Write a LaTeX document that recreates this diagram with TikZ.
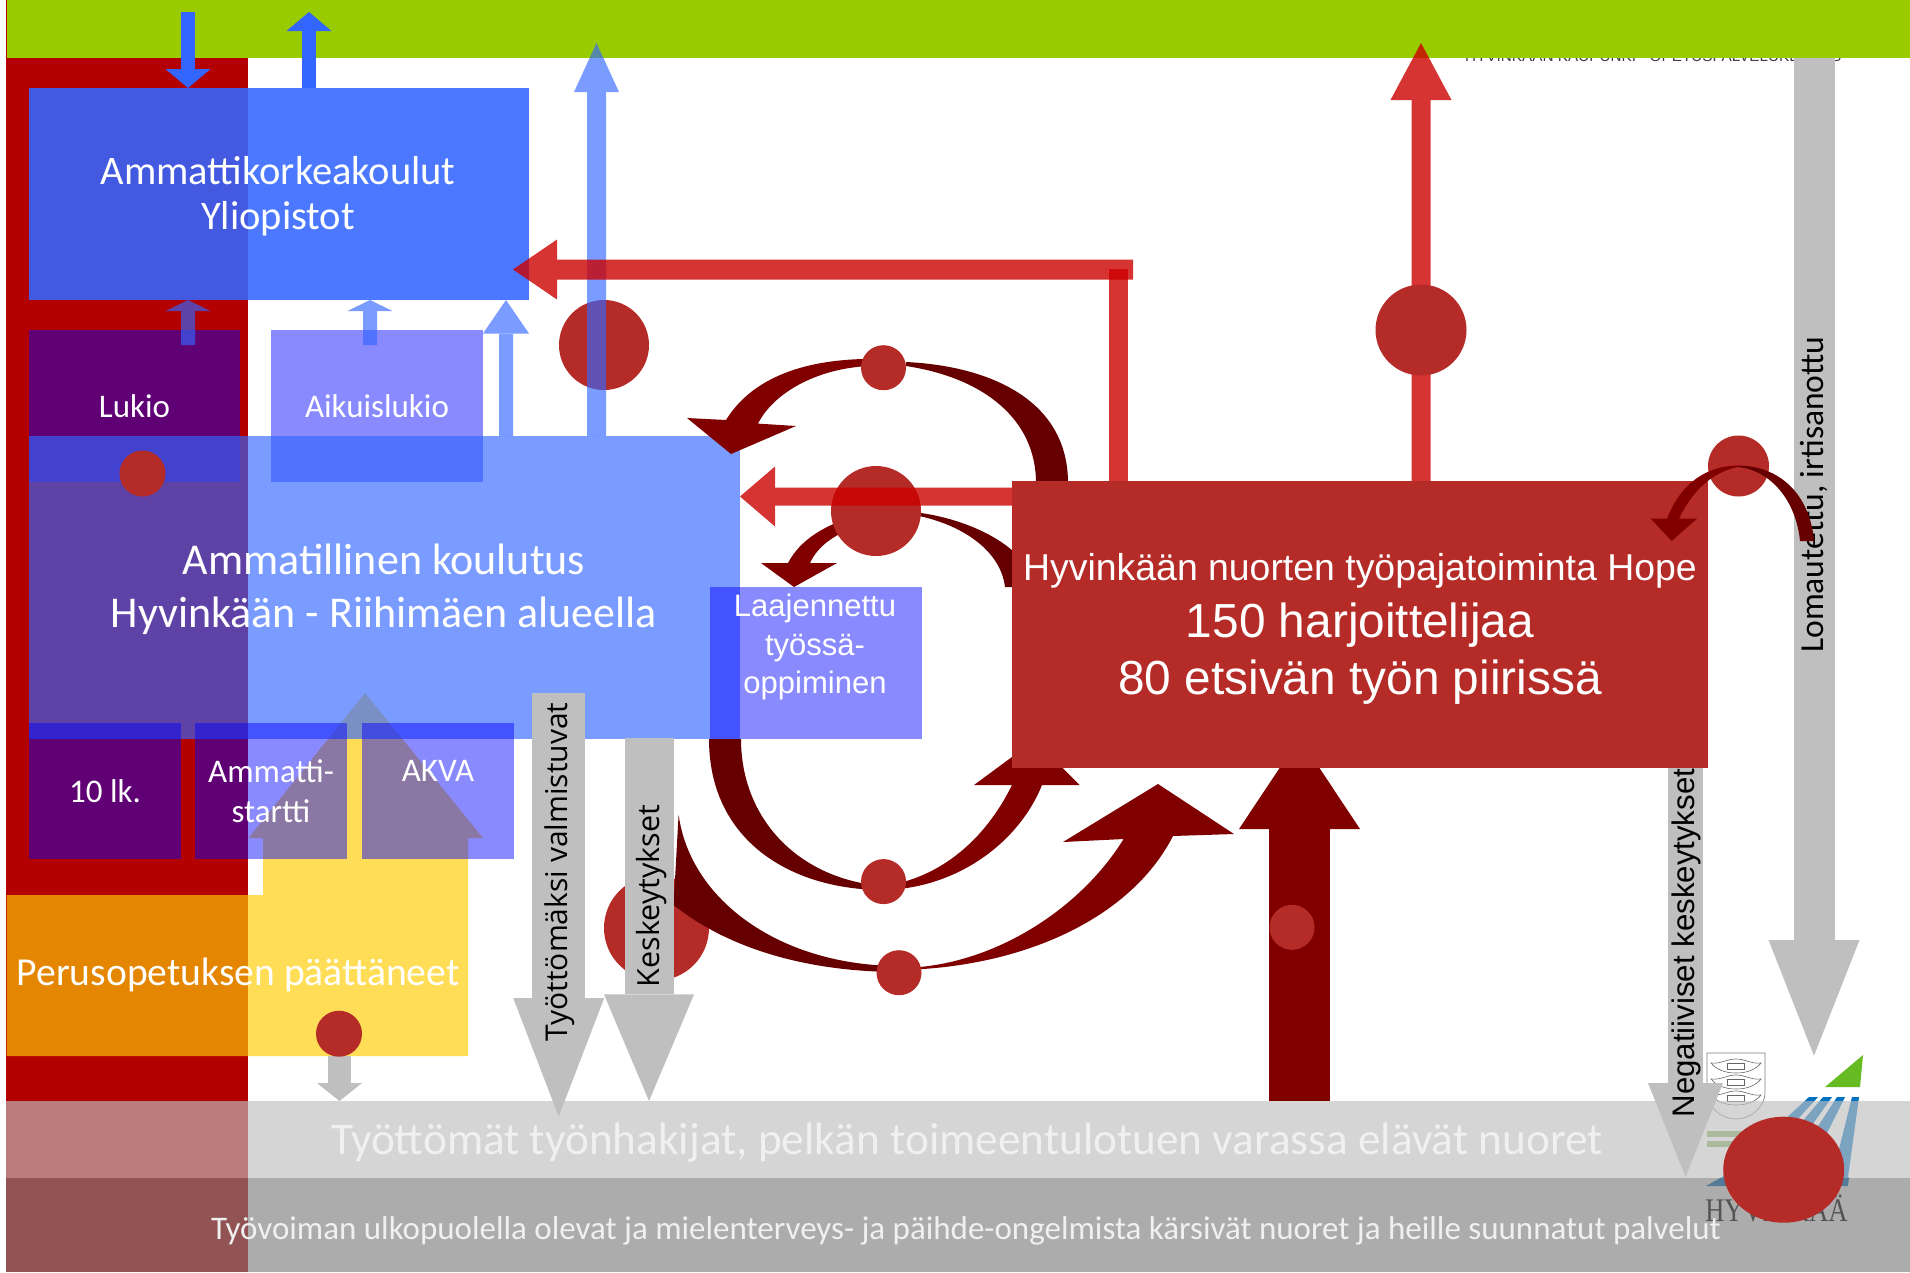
\documentclass[tikz,border=0pt]{standalone}
\usepackage{fontspec}
\setmainfont{Carlito}
\newfontfamily\arialfont{Liberation Sans}
\newfontfamily\sidefont{Open Sans}
\newfontfamily\logofont[FakeStretch=.8]{Liberation Serif}
\newcommand{\fsize}[1]{\fontsize{#1}{1.2\dimexpr#1pt\relax}\selectfont}
\usetikzlibrary{arrows.meta,shapes.geometric}
\definecolor{leaf}{HTML}{99CC00}
\definecolor{stripred}{HTML}{B30000}
\definecolor{hopered}{HTML}{B52B27}
\definecolor{skyblue}{HTML}{3366FF}
\definecolor{arcdark}{HTML}{660000}
\definecolor{arcred}{HTML}{800000}
\definecolor{greyarrow}{HTML}{BFBFBF}
\definecolor{gold}{HTML}{FFCC00}
\definecolor{logoblue}{HTML}{0070C0}
\definecolor{logogreen}{HTML}{66BB22}
\definecolor{logobar}{HTML}{88B060}
\tikzset{
  box/.style={rectangle,inner sep=0pt,outer sep=0pt,text=white,align=center,fill opacity=#1,text opacity=1},
  txt/.style={inner sep=0pt,outer sep=0pt,text=white,align=center},
  sidetxt/.style={inner sep=0pt,outer sep=0pt,rotate=90,text=black},
  dot/.style={circle,fill=hopered,inner sep=0pt,outer sep=0pt,minimum size=#1pt},
  blockarrow/.style n args={3}{line width=#1pt,-{Triangle[width=#2pt,length=#3pt,line width=0pt]}}
}
\begin{document}
\begin{tikzpicture}[x=1pt,y=-1pt]
\useasboundingbox (0,0) rectangle (1910,1272);
\fill[white] (0,0) rectangle (1910,1272);

\fill[stripred] (5.5,0) rectangle (247.5,1272);
\node[inner sep=0pt,anchor=base west,text=black!75,font=\arialfont\fsize{15.3}] (citytext) at (1465,61) {HYVINKÄÄN KAUPUNKI - OPETUSPALVELUKESKUS};
\fill[leaf] (6.5,0) rectangle (1910,58);

\draw[gray,fill=white,line width=.7pt] (1707,1053) -- (1765,1053) -- (1765,1092) .. controls (1765,1108) and (1750,1119) .. (1736,1119) .. controls (1722,1119) and (1707,1108) .. (1707,1092) -- cycle;
\foreach \y in {1066,1082,1098} {
  \draw[black!60,fill=white,line width=.6pt] (1711,\y-3) .. controls (1722,\y-2) and (1726,\y-7) .. (1736,\y-7) .. controls (1746,\y-7) and (1750,\y-2) .. (1761,\y-3) .. controls (1756,\y+3) and (1748,\y+7) .. (1736,\y+7) .. controls (1724,\y+7) and (1716,\y+3) .. (1711,\y-3) -- cycle;
  \draw[black!60,line width=.5pt] (1727,\y-3) rectangle (1744,\y+3);
}
\fill[logobar] (1707,1131) rectangle (1752,1137);
\fill[logobar] (1707,1141) rectangle (1752,1147);
\fill[logogreen] (1863,1055) -- (1860,1087) -- (1825,1087) -- cycle;
\fill[logoblue] (1809,1097) -- (1818,1097) -- (1745,1177) -- (1722,1177) -- cycle;
\fill[logoblue] (1823,1097) -- (1832,1097) -- (1775,1177) -- (1755,1177) -- cycle;
\fill[logoblue] (1837,1097) -- (1845,1097) -- (1805,1177) -- (1785,1177) -- cycle;
\fill[logoblue] (1852,1097) -- (1859,1097) -- (1848,1177) -- (1832,1177) -- cycle;
\fill[logoblue] (1722,1177) -- (1849,1177) -- (1848,1186) -- (1706,1186) -- cycle;
\node[inner sep=0pt,text=black,font=\logofont\fsize{33}] (townname) at (1776.5,1208) {HYVINKÄÄ};

\fill[greyarrow,fill opacity=.65] (5.5,1101) rectangle (1910,1177.5);
\fill[black!50,fill opacity=.65] (5.5,1177.5) rectangle (1910,1272);
\node[txt,text=white!94!black,font=\fsize{45.3}] (jobseekers) at (967,1143) {Työttömät työnhakijat, pelkän toimeentulotuen varassa elävät nuoret};
\node[txt,text=white!94!black,font=\fsize{33}] (outside) at (966,1231) {Työvoiman ulkopuolella olevat ja mielenterveys- ja päihde-ongelmista kärsivät nuoret ja heille suunnatut palvelut};

\fill[gold,fill opacity=.66] (365,693) -- (483,838) -- (468,838) -- (468,1056) -- (6.5,1056) -- (6.5,895) -- (263,895) -- (263,838) -- (248.5,838) -- cycle;
\node[txt,font=\fsize{39.6}] (peruskoulu) at (238,975) {Perusopetuksen päättäneet};

\node[dot=90] (leftdot) at (604,345) {};
\node[dot=105] (greydot) at (656.5,928) {};

\node[box=.46,fill=blue,minimum width=211pt,minimum height=152pt,font=\fsize{33}] (lukio) at (134.5,406) {Lukio};
\node[box=.46,fill=blue,minimum width=212pt,minimum height=152pt,font=\fsize{33}] (aikuislukio) at (377,406) {Aikuislukio};
\node[box=.65,fill=skyblue,minimum width=711pt,minimum height=303pt] (ammatillinen) at (384.5,587.5) {};
\node[txt,font=\fsize{44}] (ammatext) at (384,589) {Ammatillinen koulutus\\Hyvinkään - Riihimäen alueella};
\node[box=.88,fill=skyblue,minimum width=500pt,minimum height=212pt] (korkeakoulut) at (279,194) {};
\node[txt,font=\fsize{40.5}] (korkeatext) at (278,196) {Ammattikorkeakoulut\\[-4pt]Yliopistot};
\node[box=.46,fill=blue,minimum width=152pt,minimum height=136pt,font=\fsize{33}] (kymppi) at (105,791) {10 lk.};
\node[box=.46,fill=blue,minimum width=152pt,minimum height=136pt,font=\fsize{33}] (startti) at (271,791) {Ammatti-\\startti};
\node[box=.46,fill=blue,minimum width=152pt,minimum height=136pt,font=\fsize{33}] (akva) at (438,791) {AKVA\\~};
\node[box=.46,fill=blue,minimum width=212pt,minimum height=152pt] (laajennettu) at (816,663) {};
\node[txt,font=\arialfont\fsize{31}] (laajatext) at (815,647) {Laajennettu\\[1.5pt]työssä-\\[1.5pt]oppiminen};

\coordinate (down start) at (188,12);
\coordinate (down tip)   at (188,88);
\coordinate (up start)   at (309,88);
\coordinate (up tip)     at (309,12);
\draw[skyblue,blockarrow={14}{45}{19}] (down start) -- (down tip);
\draw[skyblue,blockarrow={14}{45}{19}] (up start) -- (up tip);

\coordinate (lukio out)  at (188,345);
\coordinate (lukio in)   at (188,300);
\coordinate (aikuis out) at (370,345);
\coordinate (aikuis in)  at (370,300);
\coordinate (amm left)   at (506,436);
\coordinate (amm left2)  at (506,300);
\coordinate (amm right)  at (596.5,436);
\coordinate (amm right2) at (596.5,43);
\begin{scope}[transparency group,opacity=.65]
\draw[skyblue,blockarrow={14}{45}{11}] (lukio out) -- (lukio in);
\draw[skyblue,blockarrow={14}{45}{11}] (aikuis out) -- (aikuis in);
\draw[skyblue,blockarrow={14}{46}{33.5}] (amm left) -- (amm left2);
\draw[skyblue,blockarrow={19}{45}{49}] (amm right) -- (amm right2);
\end{scope}

\fill[arcdark] (1068,483) .. controls (1068,400) and (990,366) .. (906,362) -- (906,366) .. controls (985,378) and (1036,420) .. (1036,483) -- cycle;
\fill[arcred] (883,359) .. controls (805,357) and (752,378) .. (726,420) -- (687,418) -- (731,454) -- (796,426) -- (758,423.6) .. controls (775,390) and (825,364) .. (883,366) -- cycle;
\fill[arcdark] (900,511) .. controls (945,513) and (990,530) .. (1014,552) -- (1014,587) -- (1005,587) .. controls (1000,545) and (950,518) .. (900,513) -- cycle;
\fill[arcred] (860,515) .. controls (825,524) and (800,540) .. (788,563) -- (761,563) -- (794,587) -- (837,563) -- (810,563) .. controls (818,545) and (838,532) .. (860,526) -- cycle;
\fill[arcdark] (709,739) .. controls (709,840) and (790,890) .. (884,890) -- (884,886) .. controls (800,880) and (741,820) .. (741,739) -- cycle;
\fill[arcred] (884,890) .. controls (960,888) and (1020,840) .. (1042,785) -- (1079.6,785) -- (1035,740) -- (974,785) -- (1012,785) .. controls (985,840) and (940,878) .. (884,886) -- cycle;
\fill[arcdark] (678.6,814.6) .. controls (690,900) and (780,966) .. (900,966) -- (900,972) .. controls (810,972) and (730,950) .. (673.6,905) -- cycle;
\fill[arcred] (899,970) .. controls (1020,968) and (1130,920) .. (1173,836) -- (1234,834) -- (1158,784) -- (1063,842) -- (1123.6,839) .. controls (1080,910) and (990,968) .. (899,968) -- cycle;

\coordinate (jobs top)   at (1299.5,1101);
\coordinate (jobs tip)   at (1299.5,738);
\draw[arcred,blockarrow={61}{121}{91}] (jobs top) -- (jobs tip);

\node[dot=90] (middot) at (876,511) {};
\node[dot=45] (topdot) at (883.5,367.7) {};
\node[dot=45] (bottomdot) at (883.5,881.6) {};
\node[dot=45] (lowdot) at (899,972.7) {};
\node[dot=45] (jobsdot) at (1292,927.3) {};

\coordinate (amk branch) at (1133,269.5);
\coordinate (amk tip)    at (513,269.5);
\coordinate (mid start)  at (1012,496.5);
\coordinate (mid tip)    at (740,496.5);
\coordinate (hope top)   at (1421,481);
\coordinate (hope tip)   at (1421,43);
\begin{scope}[transparency group,opacity=.8]
\draw[red!80!black,blockarrow={20}{60}{44}] (amk branch) -- (amk tip);
\draw[red!80!black,blockarrow={18}{60}{35}] (mid start) -- (mid tip);
\draw[red!80!black,blockarrow={19}{61}{57}] (hope top) -- (hope tip);
\end{scope}
\coordinate (branch foot) at (1118,481);
\coordinate (branch head) at (1118,269.3);
\draw[red!80!black,opacity=.8,line width=19pt] (branch foot) -- (branch head);
\node[dot=91] (hopedot) at (1421,330) {};

\coordinate (valm start) at (558.7,693);
\coordinate (valm tip)   at (558.7,1116.6);
\coordinate (kesk start) at (649,738.4);
\coordinate (kesk tip)   at (649,1101);
\coordinate (neg start)  at (1685.5,768);
\coordinate (neg tip)    at (1685.5,1177);
\coordinate (lom start)  at (1814,58);
\coordinate (lom tip)    at (1814,1055.7);
\coordinate (perus start) at (339.5,1056);
\coordinate (perus tip)  at (339.5,1101);
\draw[greyarrow,blockarrow={53}{91}{118.6}] (valm start) -- (valm tip);
\draw[greyarrow,blockarrow={49}{90}{106.6}] (kesk start) -- (kesk tip);
\draw[greyarrow,blockarrow={35}{75}{94}] (neg start) -- (neg tip);
\draw[greyarrow,blockarrow={41}{91}{115.7}] (lom start) -- (lom tip);
\draw[greyarrow,blockarrow={23}{45}{18}] (perus start) -- (perus tip);
\node[dot=46] (lukiodot) at (142.5,473.5) {};
\node[dot=46] (perusdot) at (339,1033.7) {};

\node[sidetxt,font=\sidefont\fsize{30}] (valmistuvat) at (559.5,872) {Työttömäksi valmistuvat};
\node[sidetxt,font=\sidefont\fsize{30.5}] (keskeytykset) at (651.5,896) {Keskeytykset};
\node[sidetxt,font=\arialfont\fsize{31.2}] (negatiiviset) at (1686.5,943) {Negatiiviset keskeytykset};
\node[sidetxt,font=\fsize{33.6}] (lomautettu) at (1814,494.5) {Lomautettu, irtisanottu};

\node[box=1,fill=hopered,minimum width=696pt,minimum height=287pt] (hope) at (1360,624.5) {};
\node[txt] (hopetext) at (1360,629) {{\arialfont\fsize{37.4}Hyvinkään nuorten työpajatoiminta Hope}\\[13pt]{\arialfont\fsize{47.8}150 harjoittelijaa}\\[12pt]{\arialfont\fsize{47.8}80 etsivän työn piirissä}};

\node[dot=61] (sidedot) at (1738.5,466) {};
\fill[arcdark] (1814,541) .. controls (1810,495) and (1780,465.6) .. (1738,465.6) -- (1738,467) .. controls (1770,470) and (1796,500) .. (1800,541) -- cycle;
\fill[arcred] (1738,465.6) .. controls (1705,465.6) and (1680,485) .. (1667,518.6) -- (1650.7,518.6) -- (1671.7,541) -- (1697,518.6) -- (1679,518.6) .. controls (1690,495) and (1710,472) .. (1738,467) -- cycle;

\node[ellipse,fill=hopered,inner sep=0pt,outer sep=0pt,minimum width=121pt,minimum height=106pt] (logodot) at (1783.7,1169.7) {};
\end{tikzpicture}
\end{document}
